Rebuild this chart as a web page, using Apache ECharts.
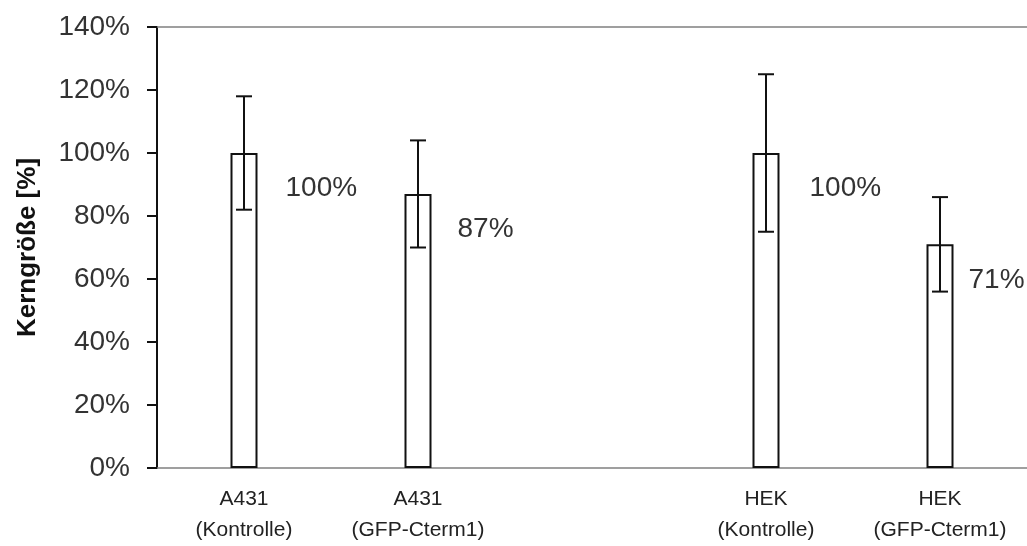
<!DOCTYPE html>
<html>
<head>
<meta charset="utf-8">
<script src="https://cdn.jsdelivr.net/npm/echarts@6/dist/echarts.min.js"></script>
<style>
html,body{margin:0;padding:0;background:#fff;}
#chart{width:1027px;height:546px;}
</style>
</head>
<body>
<div id="chart"></div>
<script>
const categories = ['A431\n(Kontrolle)', 'A431\n(GFP-Cterm1)', '', 'HEK\n(Kontrolle)', 'HEK\n(GFP-Cterm1)'];
const values = [100, 87, null, 100, 71];
const errors = [18, 17, null, 25, 15];
const yTicks = { min: 0, max: 140, interval: 20 };
const yTitle = 'Kerngröße [%]';

// label offsets (layout only, relative to each bar's top-left corner)
const labelOffsets = [[55, 35], [53, 35], null, [57, 35], [42, 36]];

const chart = echarts.init(document.getElementById('chart'));
const font = '"Liberation Sans", Arial, sans-serif';

const errData = values.map((v, i) => v == null ? null : [i, v - errors[i], v + errors[i]]);
const barData = values.map((v, i) => v == null ? null : {
  value: v,
  label: { position: labelOffsets[i] }
});

chart.setOption({
  animation: false,
  backgroundColor: '#fff',
  grid: { left: 157, right: 0, top: 27, bottom: 76, containLabel: false },
  xAxis: [{
    type: 'category',
    data: categories,
    axisLine: { show: true, lineStyle: { color: '#808080', width: 1.5 } },
    axisTick: { show: false },
    axisLabel: { fontFamily: font, fontSize: 21, lineHeight: 31, color: '#222', margin: 16, interval: 0 }
  }, {
    type: 'category',
    position: 'top',
    data: categories,
    axisLine: { show: true, lineStyle: { color: '#808080', width: 1.5 } },
    axisTick: { show: false },
    axisLabel: { show: false }
  }],
  yAxis: {
    type: 'value',
    min: yTicks.min, max: yTicks.max, interval: yTicks.interval,
    name: yTitle,
    nameLocation: 'middle',
    nameRotate: 90,
    nameGap: 116,
    nameTextStyle: { fontFamily: font, fontSize: 26, fontWeight: 'bold', color: '#111' },
    axisLine: { show: true, lineStyle: { color: '#111', width: 2 } },
    axisTick: { show: true, inside: false, length: 10, lineStyle: { color: '#111', width: 2 } },
    splitLine: { show: false },
    axisLabel: { formatter: '{value}%', fontFamily: font, fontSize: 28, color: '#333', margin: 27 }
  },
  series: [{
    type: 'bar',
    data: barData,
    barWidth: 27,
    itemStyle: { color: '#fff', borderColor: '#111', borderWidth: 2 },
    label: {
      show: true,
      position: [57, 36],
      align: 'left',
      verticalAlign: 'middle',
      formatter: p => p.value + '%',
      fontFamily: font, fontSize: 28, color: '#333'
    },
    z: 2
  }, {
    type: 'custom',
    data: errData.filter(d => d),
    z: 3,
    renderItem: function (params, api) {
      const x = api.value(0);
      const lo = api.coord([x, api.value(1)]);
      const hi = api.coord([x, api.value(2)]);
      const cw = 8;
      const style = { stroke: '#111', lineWidth: 2, fill: null };
      return {
        type: 'group',
        children: [
          { type: 'line', shape: { x1: hi[0], y1: hi[1], x2: lo[0], y2: lo[1] }, style: style },
          { type: 'line', shape: { x1: hi[0] - cw, y1: hi[1], x2: hi[0] + cw, y2: hi[1] }, style: style },
          { type: 'line', shape: { x1: lo[0] - cw, y1: lo[1], x2: lo[0] + cw, y2: lo[1] }, style: style }
        ]
      };
    }
  }]
});
</script>
</body>
</html>
